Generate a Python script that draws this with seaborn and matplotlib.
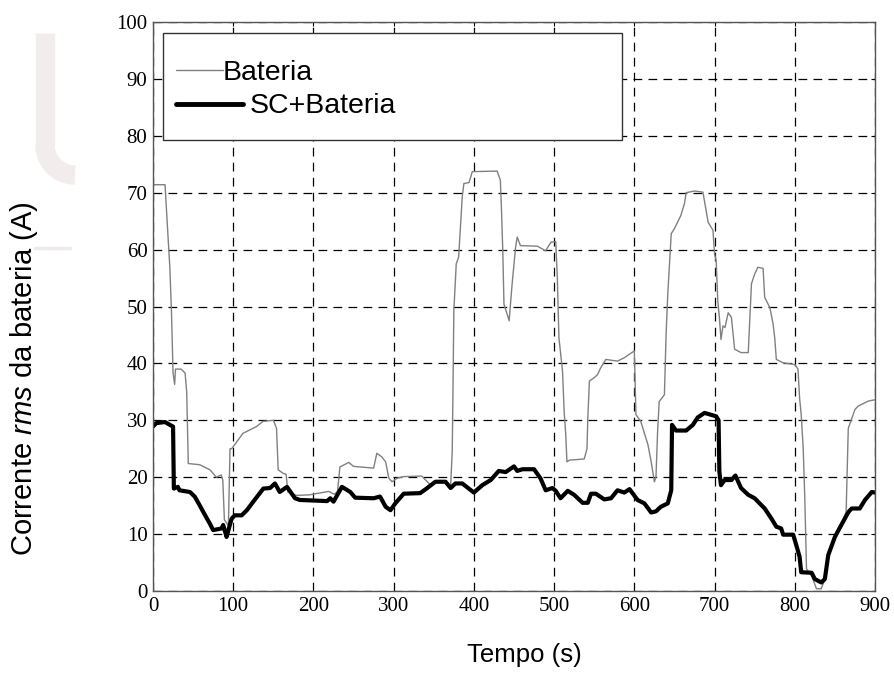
import numpy as np
import pandas as pd
import matplotlib
matplotlib.use("Agg")
import matplotlib.pyplot as plt
from matplotlib.patches import Rectangle
from matplotlib.lines import Line2D
import seaborn as sns

# Bateria (linha fina cinza)
bat_t = [0, 15, 17, 19, 21, 23, 25, 27, 28, 35, 40, 42, 44, 58, 71, 79, 85, 87, 89, 94,
         96, 98, 108, 112, 129, 137, 150, 154, 156, 162, 166, 168, 179, 195, 219, 226, 230,
         233, 244, 250, 275, 279, 285, 290, 294, 298, 304, 312, 335, 342, 346, 352, 365, 371,
         373, 374, 375, 378, 381, 383, 385.5, 387.5, 394, 398, 429, 433, 434.5, 436, 437.5,
         444, 445, 448, 452, 454, 458, 479, 489.5, 496, 502, 504, 506, 510.5, 512.5, 514.5,
         516, 519, 537.5, 541, 542, 544, 550, 554, 558, 564.5, 579, 587.5, 600, 602, 608,
         617, 621, 625, 627, 629, 631, 637.5, 639.6, 641.7, 646, 650, 658, 662.5, 664.6, 675,
         685.5, 692, 698, 700, 702, 704, 706, 708, 710.5, 713, 717, 721, 725, 733, 742, 746,
         750, 754, 760.5, 762.5, 769, 773, 775, 777, 785.5, 800, 804, 806, 808, 810.5, 812.5,
         814.6, 821, 827, 833, 837.5, 842, 850, 858, 864, 866.7, 875, 879, 892, 900]
bat_v = [71.4, 71.4, 66.4, 61.6, 56.9, 49.2, 38.3, 36.3, 39.0, 39.0, 38.3, 35.0, 22.4, 22.2,
         21.3, 20.0, 20.4, 19.5, 12.5, 11.5, 25.0, 25.0, 26.9, 27.7, 28.9, 29.8, 30.0, 28.6,
         21.3, 20.7, 20.5, 17.4, 16.8, 16.9, 17.5, 17.0, 17.5, 21.8, 22.6, 21.9, 21.6, 24.2,
         23.6, 22.7, 19.8, 19.2, 19.8, 20.1, 20.2, 19.2, 18.6, 19.3, 19.3, 18.5, 24.5, 36.0,
         49.2, 57.5, 58.7, 63.4, 69.3, 71.6, 71.8, 73.7, 73.8, 72.2, 66.6, 59.8, 50.4, 47.5,
         49.4, 54.5, 60.4, 62.2, 60.7, 60.6, 59.8, 61.3, 61.4, 55.1, 44.5, 38.6, 31.6, 27.5,
         22.7, 23.0, 23.2, 25.0, 30.4, 36.9, 37.5, 38.0, 39.2, 40.7, 40.4, 41.0, 42.2, 31.0,
         29.8, 25.7, 22.7, 19.2, 20.1, 28.0, 33.3, 34.5, 45.2, 52.2, 62.8, 63.7, 66.0, 68.1,
         70.0, 70.3, 70.1, 64.8, 63.4, 59.2, 58.1, 51.0, 48.1, 44.2, 46.6, 46.3, 48.9, 48.1,
         42.5, 41.9, 41.9, 54.0, 55.7, 56.9, 56.7, 51.6, 49.8, 46.9, 44.5, 40.7, 40.1, 39.8,
         39.0, 33.9, 31.0, 25.1, 16.3, 3.9, 2.7, 0.4, 0.4, 2.1, 6.3, 9.5, 11.6, 13.9, 28.6,
         31.9, 32.5, 33.4, 33.6]

# SC+Bateria (linha grossa preta)
sc_t = [0, 4, 15, 21, 25, 26, 31, 33, 46, 52, 58, 65, 71, 75, 85.5, 87.5, 91.7, 94, 98, 102,
        110.5, 117, 125, 137.5, 146, 152, 158, 167, 177, 183, 217, 221, 225, 235.5, 246, 252,
        275, 283, 290, 296, 302, 312.5, 333, 340, 352, 364.6, 371, 377, 385.5, 400, 410.5,
        421, 431, 439.6, 450, 454, 460.5, 475, 483, 489.5, 498, 502, 508, 517, 525, 535.5,
        542, 546, 552, 562.5, 571, 579, 587.5, 594, 604, 612.5, 621, 627, 633, 641.7, 646,
        647, 652, 664.6, 673, 679, 687.5, 702, 705, 706, 708, 712.5, 721, 726, 733, 742, 750,
        762.5, 771, 777, 783, 785.5, 798, 802, 806, 808, 821, 825, 833, 837.5, 841.7, 850,
        858, 867, 871, 881, 887.5, 896, 900]
sc_v = [28.9, 29.5, 29.7, 29.2, 28.9, 18.0, 18.3, 17.7, 17.4, 16.6, 15.1, 13.3, 11.8, 10.7,
        11.0, 11.6, 9.5, 10.7, 12.7, 13.3, 13.3, 14.2, 15.7, 18.0, 18.1, 18.9, 17.4, 18.3,
        16.3, 16.0, 15.8, 16.3, 15.7, 18.3, 17.4, 16.4, 16.3, 16.6, 14.8, 14.2, 15.4, 17.1,
        17.2, 17.9, 19.2, 19.2, 18.1, 18.9, 18.9, 17.3, 18.6, 19.5, 21.1, 20.9, 21.9, 21.1,
        21.4, 21.4, 19.8, 17.7, 18.1, 17.6, 16.3, 17.6, 16.9, 15.5, 15.5, 17.1, 17.1, 16.1,
        16.3, 17.7, 17.3, 17.9, 16.0, 15.4, 13.8, 14.0, 14.8, 15.4, 17.7, 29.2, 28.2, 28.2,
        29.2, 30.5, 31.3, 30.7, 30.0, 21.0, 18.6, 19.5, 19.5, 20.3, 18.1, 16.9, 16.3, 14.5,
        12.7, 11.3, 11.0, 9.9, 9.9, 8.0, 6.0, 3.3, 3.2, 2.1, 1.5, 2.1, 6.3, 9.5, 11.6, 13.9,
        14.5, 14.5, 16.0, 17.4, 17.3]

x_ticks = list(range(0, 901, 100))
y_ticks = list(range(0, 101, 10))

sns.set_style("white")
plt.rcParams['font.family'] = ['Liberation Sans', 'DejaVu Sans']
plt.rcParams['text.color'] = 'black'
plt.rcParams['mathtext.fontset'] = 'custom'
plt.rcParams['mathtext.rm'] = 'Liberation Sans'
plt.rcParams['mathtext.it'] = 'Liberation Sans:italic'

fig = plt.figure(figsize=(8.94, 6.73), dpi=100)
ax = fig.add_axes([153 / 894, 1 - 591 / 673, (875 - 153) / 894, (591 - 22) / 673])

# watermark (faint logo on the left)
wm = '#f2ecec'
fig.add_artist(Line2D([45 / 894, 45 / 894], [1 - 33 / 673, 1 - 145 / 673],
                      color=wm, lw=14, solid_capstyle='butt', transform=fig.transFigure, zorder=0))
arc = np.linspace(np.pi, 1.5 * np.pi, 20)
fig.add_artist(Line2D((75 + 30 * np.cos(arc)) / 894, 1 - (145 - 30 * np.sin(arc)) / 673,
                      color=wm, lw=14, solid_capstyle='butt', transform=fig.transFigure, zorder=0))
fig.add_artist(Line2D([35 / 894, 70 / 894], [1 - 248 / 673, 1 - 248 / 673],
                      color='#eeeaea', lw=2.5, transform=fig.transFigure, zorder=0))

bat = pd.DataFrame({"t": bat_t, "v": bat_v})
sc = pd.DataFrame({"t": sc_t, "v": sc_v})
sns.lineplot(data=bat, x="t", y="v", ax=ax, color='#808080', lw=1.0, estimator=None, sort=False)
sns.lineplot(data=sc, x="t", y="v", ax=ax, color='black', lw=3.0, estimator=None, sort=False)

ax.set_xlim(0, 900)
ax.set_ylim(0, 100)
ax.set_xticks(x_ticks)
ax.set_yticks(y_ticks)
ax.set_xlabel("")
ax.set_ylabel("")
ax.grid(True, color='black', linestyle=(0, (7, 5)), lw=0.9)
ax.tick_params(direction='in', length=3, width=0.8, top=True, right=True,
               labelsize=15, pad=4, colors='black')
for lab in ax.get_xticklabels() + ax.get_yticklabels():
    lab.set_family('Liberation Serif')
for s in ax.spines.values():
    s.set_color('#555555')
    s.set_linewidth(1.0)

# legend box
ax.add_patch(Rectangle((0.0134, 0.793), 0.636, 0.187, transform=ax.transAxes,
                       facecolor='white', edgecolor='#333333', lw=1.0, zorder=5))
ax.add_line(Line2D([0.0324, 0.097], [0.916, 0.916], transform=ax.transAxes,
                   color='#808080', lw=1.0, zorder=6))
ax.text(0.097, 0.910, "Bateria", transform=ax.transAxes, fontsize=20.5, color='black',
        va='center', ha='left', zorder=7)
ax.add_line(Line2D([0.0324, 0.1245], [0.856, 0.856], transform=ax.transAxes,
                   color='black', lw=3.5, zorder=6))
ax.text(0.134, 0.853, "SC+Bateria", transform=ax.transAxes, fontsize=20.5, color='black',
        va='center', ha='left', zorder=7)

fig.text(524 / 894, 1 - 655 / 673, "Tempo (s)", fontsize=18.5, ha='center', va='center',
         color='black')
fig.text(24 / 894, 1 - 379 / 673, "Corrente $\\mathit{rms}$ da bateria (A)", fontsize=21,
         rotation=90, ha='center', va='center', color='black')

fig.savefig("out.png", dpi=100)
